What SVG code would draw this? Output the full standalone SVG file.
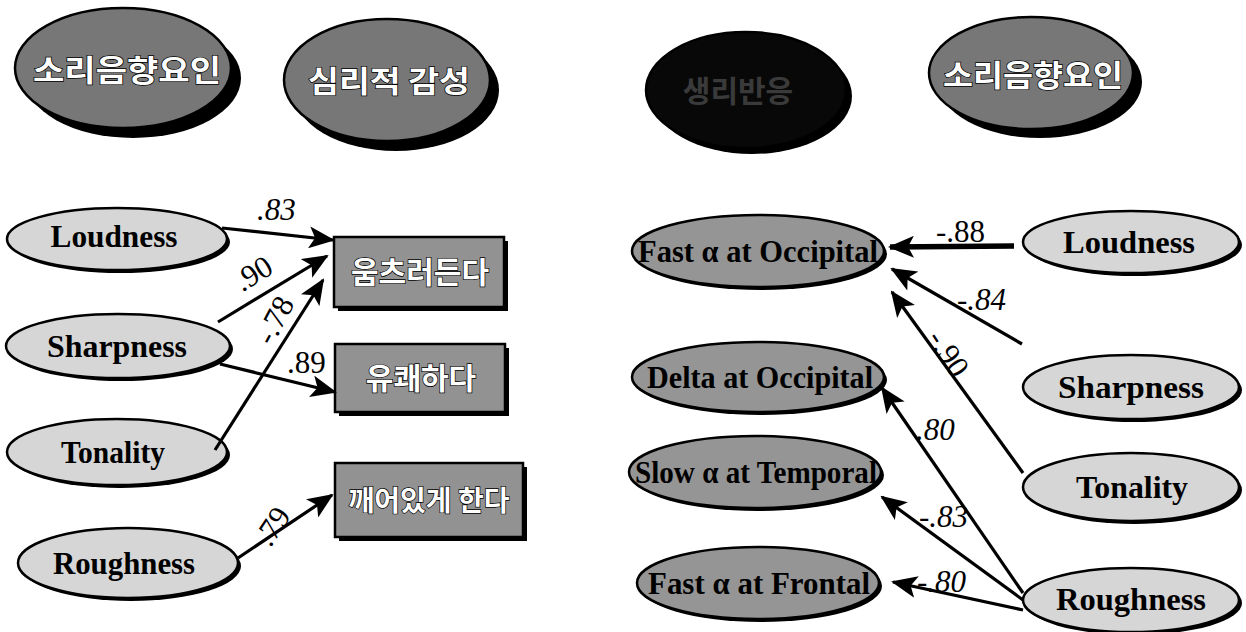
<svg xmlns="http://www.w3.org/2000/svg" width="1246" height="632" viewBox="0 0 1246 632">
  <style>
    .bg { fill: #ffffff; }
    .shadow { fill: #000000; }
    .light { fill: #d6d6d6; stroke: #000; stroke-width: 2.5; }
    .mid { fill: #959595; stroke: #000; stroke-width: 2.5; }
    .head { fill: #777777; stroke: #000; stroke-width: 2.5; }
    .dark { fill: #080808; stroke: #000; stroke-width: 2.5; }
    .box { fill: #929292; stroke: #000; stroke-width: 2.5; }
    .en { font-family: "Liberation Serif", "Times New Roman", serif; font-weight: bold; font-size: 32px; fill: #000; text-anchor: middle; }
    .ko { font-family: "Noto Sans CJK KR", "Noto Sans", sans-serif; font-weight: bold; font-size: 30px; fill: #000; text-anchor: middle; }
    .koh { font-family: "Noto Sans CJK KR", "Noto Sans", sans-serif; font-weight: bold; font-size: 30px; fill: #fff; stroke: #000; stroke-width: 1.4; paint-order: stroke; text-anchor: middle; }
    .num { font-family: "Liberation Serif", "Times New Roman", serif; font-size: 31px; fill: #000; }
    .rot { text-anchor: middle; }
    .it { font-style: italic; }
    .link { stroke: #000; stroke-width: 3.2; fill: none; marker-end: url(#head); }
    .thick { stroke-width: 5.5; }
  </style>
  <defs>
    <marker id="head" markerUnits="userSpaceOnUse" markerWidth="26" markerHeight="22" refX="24" refY="11" orient="auto">
      <path d="M0,0 L26,11 L0,22 L6,11 Z" fill="#000"/>
    </marker>
  </defs>

  <rect class="bg" x="0" y="0" width="1246" height="632"/>

  <!-- header ovals -->
  <g id="hdr-sound-left">
    <ellipse class="shadow" cx="133" cy="78" rx="108" ry="60"/>
    <ellipse class="head" cx="123" cy="68" rx="108" ry="60"/>
    <text class="koh" x="127" y="81" textLength="188" lengthAdjust="spacingAndGlyphs">소리음향요인</text>
  </g>
  <g id="hdr-emotion">
    <ellipse class="shadow" cx="396" cy="90" rx="103" ry="61"/>
    <ellipse class="head" cx="387" cy="80" rx="103" ry="61"/>
    <text class="koh" x="389" y="92" textLength="162" lengthAdjust="spacingAndGlyphs">심리적 감성</text>
  </g>
  <g id="hdr-physio">
    <ellipse class="shadow" cx="752" cy="96" rx="100" ry="58"/>
    <ellipse class="dark" cx="746" cy="90" rx="100" ry="58"/>
    <text class="ko" x="738" y="102" style="fill:#3a3a3a">생리반응</text>
  </g>
  <g id="hdr-sound-right">
    <ellipse class="shadow" cx="1040" cy="82" rx="102" ry="56"/>
    <ellipse class="head" cx="1031" cy="73" rx="102" ry="56"/>
    <text class="koh" x="1033" y="86" textLength="180" lengthAdjust="spacingAndGlyphs">소리음향요인</text>
  </g>

  <!-- left panel: sound factors -->
  <g id="l-loudness">
    <ellipse class="shadow" cx="120" cy="242" rx="110" ry="31"/>
    <ellipse class="light" cx="117" cy="239" rx="110" ry="31"/>
    <text class="en" x="114" y="247" textLength="127" lengthAdjust="spacingAndGlyphs">Loudness</text>
  </g>
  <g id="l-sharpness">
    <ellipse class="shadow" cx="121" cy="349" rx="112" ry="32"/>
    <ellipse class="light" cx="118" cy="346" rx="112" ry="32"/>
    <text class="en" x="117" y="357" textLength="140" lengthAdjust="spacingAndGlyphs">Sharpness</text>
  </g>
  <g id="l-tonality">
    <ellipse class="shadow" cx="120" cy="455" rx="110" ry="33"/>
    <ellipse class="light" cx="117" cy="452" rx="110" ry="33"/>
    <text class="en" x="113" y="463" textLength="104" lengthAdjust="spacingAndGlyphs">Tonality</text>
  </g>
  <g id="l-roughness">
    <ellipse class="shadow" cx="131" cy="566" rx="110" ry="35"/>
    <ellipse class="light" cx="128" cy="563" rx="110" ry="35"/>
    <text class="en" x="124" y="574" textLength="142" lengthAdjust="spacingAndGlyphs">Roughness</text>
  </g>

  <!-- left panel: emotion items -->
  <g id="b-shrink">
    <rect class="shadow" x="338" y="241" width="170" height="70"/>
    <rect class="box" x="334" y="237" width="170" height="70"/>
    <text class="koh" x="420" y="283">움츠러든다</text>
  </g>
  <g id="b-pleasant">
    <rect class="shadow" x="339" y="348" width="170" height="68"/>
    <rect class="box" x="335" y="344" width="170" height="68"/>
    <text class="koh" x="421" y="389">유쾌하다</text>
  </g>
  <g id="b-awake">
    <rect class="shadow" x="339" y="467" width="188" height="74"/>
    <rect class="box" x="335" y="463" width="188" height="74"/>
    <text class="koh" x="429" y="511" style="font-size:28px">깨어있게 한다</text>
  </g>

  <!-- right panel: EEG measures -->
  <g id="r-fast-occ">
    <ellipse class="shadow" cx="761" cy="254" rx="126" ry="36"/>
    <ellipse class="mid" cx="758" cy="251" rx="126" ry="36"/>
    <text class="en" x="758" y="262" textLength="240" lengthAdjust="spacingAndGlyphs">Fast α at Occipital</text>
  </g>
  <g id="r-delta-occ">
    <ellipse class="shadow" cx="761" cy="380" rx="126" ry="35"/>
    <ellipse class="mid" cx="758" cy="377" rx="126" ry="35"/>
    <text class="en" x="760" y="388" textLength="226" lengthAdjust="spacingAndGlyphs">Delta at Occipital</text>
  </g>
  <g id="r-slow-temp">
    <ellipse class="shadow" cx="758" cy="475" rx="126" ry="36"/>
    <ellipse class="mid" cx="755" cy="472" rx="126" ry="36"/>
    <text class="en" x="756" y="483" textLength="242" lengthAdjust="spacingAndGlyphs">Slow α at Temporal</text>
  </g>
  <g id="r-fast-front">
    <ellipse class="shadow" cx="761" cy="586" rx="121" ry="36"/>
    <ellipse class="mid" cx="758" cy="583" rx="121" ry="36"/>
    <text class="en" x="759" y="594" textLength="222" lengthAdjust="spacingAndGlyphs">Fast α at Frontal</text>
  </g>

  <!-- right panel: sound factors -->
  <g id="r-loudness">
    <ellipse class="shadow" cx="1134" cy="245" rx="108" ry="31"/>
    <ellipse class="light" cx="1131" cy="242" rx="108" ry="31"/>
    <text class="en" x="1129" y="253" textLength="132" lengthAdjust="spacingAndGlyphs">Loudness</text>
  </g>
  <g id="r-sharpness">
    <ellipse class="shadow" cx="1134" cy="390" rx="108" ry="32"/>
    <ellipse class="light" cx="1131" cy="387" rx="108" ry="32"/>
    <text class="en" x="1131" y="398" textLength="146" lengthAdjust="spacingAndGlyphs">Sharpness</text>
  </g>
  <g id="r-tonality">
    <ellipse class="shadow" cx="1134" cy="490" rx="108" ry="34"/>
    <ellipse class="light" cx="1131" cy="487" rx="108" ry="34"/>
    <text class="en" x="1132" y="498" textLength="112" lengthAdjust="spacingAndGlyphs">Tonality</text>
  </g>
  <g id="r-roughness">
    <ellipse class="shadow" cx="1134" cy="603" rx="108" ry="32"/>
    <ellipse class="light" cx="1131" cy="600" rx="108" ry="32"/>
    <text class="en" x="1131" y="610" textLength="150" lengthAdjust="spacingAndGlyphs">Roughness</text>
  </g>

  <!-- connectors -->
  <g id="connectors">
    <line class="link" x1="222" y1="228" x2="333" y2="240"/>
    <line class="link" x1="218" y1="322" x2="327" y2="256"/>
    <line class="link" x1="215" y1="450" x2="323" y2="280"/>
    <line class="link" x1="220" y1="364" x2="335" y2="392"/>
    <line class="link" x1="238" y1="558" x2="332" y2="495"/>

    <line class="link thick" x1="1014" y1="246" x2="890" y2="247"/>
    <line class="link" x1="1022" y1="344" x2="892" y2="269"/>
    <line class="link" x1="1023" y1="473" x2="892" y2="292"/>
    <line class="link" x1="1023" y1="593" x2="882" y2="388"/>
    <line class="link" x1="1023" y1="600" x2="882" y2="497"/>
    <line class="link" x1="1023" y1="610" x2="893" y2="582"/>
  </g>

  <!-- path coefficients -->
  <g id="coefficients">
    <text class="num it" x="257" y="220">.83</text>
    <text class="num rot" x="0" y="0" dy="0.35em" transform="translate(253,273) rotate(-32)">.90</text>
    <text class="num rot" x="0" y="0" dy="0.35em" transform="translate(274,320) rotate(-62)">-.78</text>
    <text class="num" x="287" y="373">.89</text>
    <text class="num rot" x="0" y="0" dy="0.35em" transform="translate(272,526) rotate(-56)">.79</text>

    <text class="num" x="936" y="242">-.88</text>
    <text class="num it" x="957" y="310">-.84</text>
    <text class="num rot" x="0" y="0" dy="0.35em" transform="translate(949,353) rotate(57)">-.90</text>
    <text class="num it" x="916" y="440">.80</text>
    <text class="num it" x="919" y="527">-.83</text>
    <text class="num it" x="917" y="592">-.80</text>
  </g>
</svg>
